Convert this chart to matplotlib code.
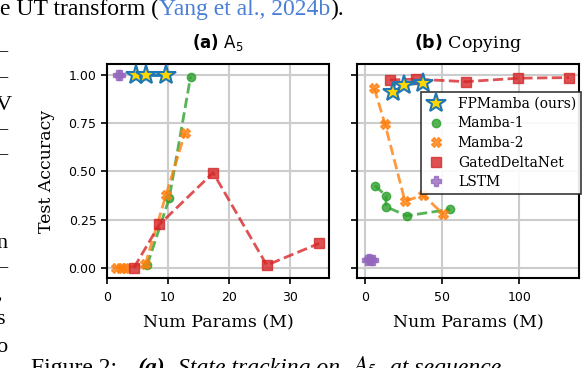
import matplotlib.pyplot as plt

# ---- panel (a): A5 state tracking ----
a_fp_x = [4.8, 6.4, 9.7]
a_fp_y = [1.0, 1.0, 1.0]
a_m1_x = [6.6, 10.2, 13.7]
a_m1_y = [0.015, 0.36, 0.99]
a_m2_x = [1.4, 2.4, 3.0, 6.3, 9.7, 12.8]
a_m2_y = [0.0, 0.0, 0.0, 0.02, 0.38, 0.70]
a_gd_x = [4.4, 8.6, 17.4, 26.2, 34.8]
a_gd_y = [0.0, 0.225, 0.493, 0.014, 0.127]
a_ls_x = [1.8, 2.1]
a_ls_y = [1.0, 1.0]

# ---- panel (b): copying ----
b_fp_x = [18.4, 25.5, 37.8]
b_fp_y = [0.913, 0.948, 0.96]
b_m1_x = [6.5, 13.6, 13.6, 27.0, 55.1]
b_m1_y = [0.426, 0.374, 0.317, 0.27, 0.303]
b_m2_x = [6.0, 13.0, 25.9, 37.8, 50.8]
b_m2_y = [0.93, 0.744, 0.346, 0.377, 0.277]
b_gd_x = [16.2, 33.0, 65.5, 99.4, 132.2]
b_gd_y = [0.974, 0.978, 0.965, 0.983, 0.986]
b_ls_x = [1.0, 2.5, 4.0, 5.5]
b_ls_y = [0.04, 0.045, 0.04, 0.042]

yticks = [0.0, 0.25, 0.5, 0.75, 1.0]

plt.rcParams['font.family'] = 'DejaVu Serif'
plt.rcParams['mathtext.fontset'] = 'dejavusans'

fig = plt.figure(figsize=(5.86, 3.68), dpi=100)
ax1 = fig.add_axes([0.1826, 0.2459, 0.3788, 0.5794])
ax2 = fig.add_axes([0.6097, 0.2459, 0.3783, 0.5794])


def draw(ax, fp, m1, m2, gd, ls):
    kw = dict(ls='--', lw=2, alpha=0.8)
    ax.plot(*m1, color='tab:green', marker='o', ms=6, label='Mamba-1', **kw)
    ax.plot(*m2, color='tab:orange', marker='X', ms=7, label='Mamba-2', **kw)
    ax.plot(*gd, color='tab:red', marker='s', ms=7, label='GatedDeltaNet', **kw)
    ax.plot(*ls, color='tab:purple', marker='P', ms=7, label='LSTM', **kw)
    ax.plot(*fp, color='tab:blue', ls='--', lw=2, marker='*', ms=15,
            mfc='gold', mec='tab:blue', mew=1.5, label='FPMamba (ours)', zorder=5)
    ax.grid(True, color='#cccccc', lw=1.5)
    ax.set_axisbelow(True)
    for s in ax.spines.values():
        s.set_linewidth(1.5)
    ax.tick_params(width=1.2, length=4, labelsize=9)
    ax.tick_params(axis='x', pad=6)
    ax.set_xlabel('Num Params (M)', fontsize=12.5, labelpad=7)
    ax.set_yticks(yticks)
    ax.set_ylim(-0.05, 1.055)


draw(ax1, (a_fp_x, a_fp_y), (a_m1_x, a_m1_y), (a_m2_x, a_m2_y),
     (a_gd_x, a_gd_y), (a_ls_x, a_ls_y))
ax1.set_xlim(0, 36.4)
ax1.set_xticks([0, 10, 20, 30])
ax1.set_ylabel('Test Accuracy', fontsize=12.5, labelpad=10)
ax1.set_title(r'$\bf{(a)}$ $\mathrm{A}_5$', fontsize=12, pad=12)

draw(ax2, (b_fp_x, b_fp_y), (b_m1_x, b_m1_y), (b_m2_x, b_m2_y),
     (b_gd_x, b_gd_y), (b_ls_x, b_ls_y))
ax2.set_xlim(-5.0, 138.7)
ax2.set_xticks([0, 50, 100])
ax2.set_yticklabels([])
ax2.set_title(r'$\bf{(b)}$ Copying', fontsize=12.5, pad=12)
for t in ax1.get_xticklabels() + ax1.get_yticklabels() + ax2.get_xticklabels():
    t.set_fontfamily('DejaVu Sans')

h, l = ax2.get_legend_handles_labels()
order = [4, 0, 1, 2, 3]
leg = ax2.legend([h[i] for i in order], [l[i] for i in order], loc='upper right',
                 bbox_to_anchor=(1.009, 0.87), borderaxespad=0, fontsize=10,
                 fancybox=False, edgecolor='#222222', framealpha=0.9,
                 handlelength=1.5, handletextpad=0.8, borderpad=0.35,
                 labelspacing=0.4)
for hd in leg.legend_handles:
    hd.set_linestyle('none')
leg.get_frame().set_linewidth(1.2)

# surrounding page text (cropped paper)
fig.canvas.draw()
rend = fig.canvas.get_renderer()
page = dict(family='Liberation Serif')

x = 0
for txt, col in [('e UT transform (', 'black'), ('Yang et al., 2024b', '#4a7fd8'),
                 (').', 'black')]:
    t = fig.text(x / 586, 1 - 15 / 368, txt, color=col, fontsize=17, **page)
    x = t.get_window_extent(rend).x1

cap = [('Figure 2:', 31, {}), ('(a)', 138, dict(weight='bold', style='italic')),
       ('State tracking on', 178, dict(style='italic')),
       (r'$A_5$', 352, dict(style='italic', math_fontfamily='stix')),
       ('at sequence', 390, dict(style='italic'))]
for txt, xx, extra in cap:
    fig.text(xx / 586, 1 - 374 / 368, txt, color='black', fontsize=17,
             **page, **extra)

frag = [('–', 52), ('–', 78), ('V', 105), ('–', 130), ('–', 155),
        ('n', 243), ('–', 268), (',', 294), ('s', 320), ('o', 347)]
for ch, yy in frag:
    fig.text(-4 / 586, 1 - yy / 368, ch, color='black', va='center',
             fontsize=16, **page)

fig.savefig('out.png', dpi=100)
